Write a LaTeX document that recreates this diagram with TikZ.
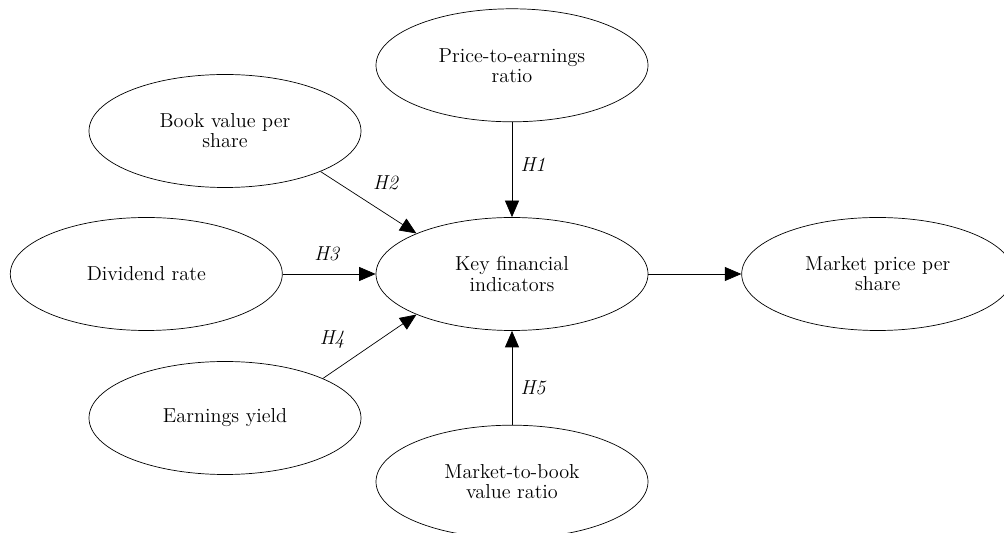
\documentclass[tikz,border=0pt]{standalone}
\usetikzlibrary{arrows.meta,positioning,shapes.geometric}

\begin{document}
\begin{tikzpicture}[
    node distance=1.86cm,
    var/.style={draw, ellipse, minimum width=5.44cm, minimum height=2.26cm,
                inner sep=0pt, font=\fontsize{11.5}{11.4}\selectfont, align=center},
    hyp/.style={font=\fontsize{11.5}{11.4}\selectfont\itshape, inner sep=0pt},
    >={Triangle[length=0.33cm, width=0.28cm]}
]
    \useasboundingbox (0,0) rectangle (20.08,-10.66);

    \node[var] (key) at (10.24,-5.48) {Key financial\\indicators};
    \node[var, above=1.9cm of key] (pe) {Price-to-earnings\\ratio};
    \node[var] (book) at (4.5,-2.62) {Book value per\\share};
    \node[var, left=of key] (div) {Dividend rate};
    \node[var] (earn) at (4.5,-8.36) {Earnings yield};
    \node[var, below=1.88cm of key] (mtb) {Market-to-book\\value ratio};
    \node[var, right=of key] (mkt) {Market price per\\share};

    \draw[->] (pe) -- node[hyp, midway, xshift=0.42cm, yshift=0.11cm] (h1) {H1} (key);
    \draw[->] (book.-23.4) -- node[hyp, midway, xshift=0.34cm, yshift=0.39cm] (h2) {H2} (key.157);
    \draw[->] (div) -- node[hyp, midway, xshift=-0.05cm, yshift=0.4cm] (h3) {H3} (key);
    \draw[->] (earn.22) -- node[hyp, midway, xshift=-0.75cm, yshift=0.14cm] (h4) {H4} (key.203);
    \draw[->] (mtb) -- node[hyp, midway, xshift=0.42cm, yshift=-0.2cm] (h5) {H5} (key);
    \draw[->] (key) -- (mkt);
\end{tikzpicture}
\end{document}
